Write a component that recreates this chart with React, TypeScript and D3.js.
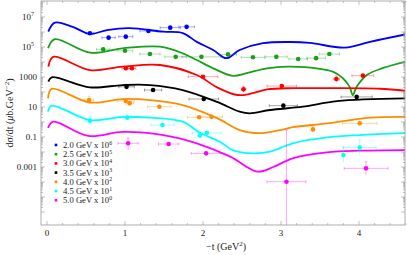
import React from "react";
import * as d3 from "d3";

type Pt = [number, number];
type Obs = [number, number, number, number?, number?]; // t, value, dt, lo, hi

const energies = ["2.0", "2.5", "3.0", "3.5", "4.0", "4.5", "5.0"];
const powers = ["6", "5", "4", "3", "2", "1", "0"];
const colors = ["#0000ff", "#19a019", "#ff0000", "#000000", "#ff8c00", "#00ffff", "#ff00ff"];

// model curves (already scaled by 10^n)
const curve20: Pt[] = [[0.017, 1.05e6], [0.1, 4.2e6], [0.33, 2.2e6], [0.55, 7.4e5], [0.77, 1.35e6], [1.06, 1.8e6], [1.49, 1.05e6], [1.74, 8.5e5], [1.92, 2.2e5], [2.13, 6.3e4], [2.3, 1.8e4], [2.47, 6.3e4], [2.77, 1.8e5], [3.12, 2.15e5], [3.37, 1.9e5], [3.82, 9e4], [4.14, 2.2e5], [4.6, 7e5]];
const curve25: Pt[] = [[0.013, 8.2e4], [0.1, 3.3e5], [0.55, 4.2e4], [0.97, 8.2e4], [1.45, 1.05e5], [1.74, 3.8e4], [1.92, 1.35e4], [2.13, 3.8e3], [2.38, 1.2e3], [2.56, 1.8e3], [2.82, 3.8e3], [3.12, 4.9e3], [3.67, 2.2e3], [3.79, 860], [3.88, 220], [3.92, 63], [3.97, 220], [4.1, 1350], [4.31, 4e3], [4.6, 1.05e4]];
const curve30: Pt[] = [[0.017, 4.9e3], [0.08, 2.2e4], [0.55, 2.9e3], [0.97, 4.9e3], [1.45, 6.3e3], [1.92, 1350], [2.18, 205], [2.44, 63], [2.6, 74], [2.82, 150], [3.15, 180], [3.63, 180], [4.27, 165], [4.6, 120]];
const curve35: Pt[] = [[0.017, 490], [0.06, 950], [0.55, 205], [0.97, 290], [1.32, 290], [1.74, 135], [2.18, 22], [2.47, 4.9], [2.6, 3.8], [2.86, 6.3], [3.28, 10.5], [3.72, 25], [4.6, 38]];
const curve40: Pt[] = [[0.013, 38], [0.06, 160], [0.55, 20], [0.97, 34], [1.32, 29], [1.74, 13.5], [2.18, 1.8], [2.47, 0.29], [2.73, 0.18], [2.99, 0.29], [3.15, 0.45], [3.59, 0.81], [4.14, 1.95], [4.6, 2.2]];
const curve45: Pt[] = [[0.013, 4.9], [0.06, 12.3], [0.55, 1.35], [0.97, 2.2], [1.32, 1.95], [1.74, 1.05], [1.96, 0.19], [2.22, 0.047], [2.38, 0.0135], [2.64, 0.0081], [2.86, 0.0105], [3.15, 0.038], [3.59, 0.095], [4.01, 0.135], [4.6, 0.18]];
const curve50: Pt[] = [[0.013, 0.4], [0.08, 1.05], [0.53, 0.117], [0.97, 0.22], [1.49, 0.135], [1.92, 0.038], [2.35, 0.0049], [2.7, 4.9e-4], [2.9, 1e-3], [3.15, 3.8e-3], [3.59, 9.5e-3], [4.01, 0.0123], [4.6, 0.0135]];

// measured points
const data20: Obs[] = [[0.55, 8.2e5, 0.05], [0.79, 4.2e5, 0.085], [1.01, 4.9e5, 0.09], [1.3, 1.17e6, 0.11], [1.58, 1.95e6, 0.13], [1.79, 2.2e6, 0.1]];
const data25: Obs[] = [[0.72, 7e4, 0.085], [1.0, 5.6e4, 0.1], [1.32, 3.4e4, 0.13], [1.65, 2.2e4, 0.14], [1.98, 2.2e4, 0.25], [2.32, 3.2e4, 0.11], [2.64, 2.05e4, 0.15], [2.94, 2.2e4, 0.14], [3.22, 1.6e4, 0.12], [3.45, 1.8e4, 0.12], [3.62, 3.4e4, 0.13]];
const data30: Obs[] = [[1.01, 3.8e3, 0.05], [1.09, 3.8e3, 0.05], [2.0, 1050, 0.19], [2.52, 150, 0.03, 95, 240], [3.01, 250, 0.19], [3.71, 740, 0.04, 470, 1170], [4.05, 1230, 0.14]];
const data35: Obs[] = [[1.02, 220, 0.1], [1.36, 135, 0.11], [2.01, 34, 0.19], [3.03, 12.3, 0.18], [3.97, 47, 0.2]];
const data40: Obs[] = [[0.54, 29, 0.06, 16, 52], [1.01, 25, 0.11], [1.06, 18, 0.05], [1.44, 10.5, 0.15], [1.95, 2.05, 0.15], [2.11, 2.2, 0.14], [3.41, 0.32, 0.0, 0.2, 0.5], [4.01, 0.81, 0.22]];
const data45: Obs[] = [[0.55, 1.23, 0.06, 0.62, 2.4], [1.03, 1.95, 0.1], [1.48, 0.63, 0.15], [1.96, 0.126, 0.0], [2.05, 0.19, 0.19], [3.8, 6.3e-3, 0.0, 2e-3, 0.02], [4.01, 0.02, 0.21, 6.3e-3, 0.063]];
const data50: Obs[] = [[1.04, 0.038, 0.13, 0.0135, 0.085], [1.56, 0.034, 0.13], [2.04, 8.1e-3, 0.19], [3.07, 1.05e-4, 0.25, 1e-10, 0.29], [4.09, 8.1e-4, 0.28, 3e-4, 2.2e-3]];

const curves = [curve20, curve25, curve30, curve35, curve40, curve45, curve50];
const points = [data20, data25, data30, data35, data40, data45, data50];

const yLabels: [number, string, string][] = [[1e7, "10", "7"], [1e5, "10", "5"], [1e3, "1000", ""], [10, "10", ""], [0.1, "0.1", ""], [1e-3, "0.001", ""]];

const W = 407, H = 255;
const left = 41, right = 405, top = 1, bottom = 225;
const font = "'Liberation Serif', 'DejaVu Serif', serif";

export default function App() {
  const x = d3.scaleLinear().domain([0, 4]).range([47, 359]);
  const y = d3.scaleLog().domain([1e-3, 1e7]).range([167, 17]);
  const line = d3.line<Pt>().x(d => x(d[0])).y(d => y(d[1])).curve(d3.curveCatmullRom.alpha(0.5));

  const xMinor = d3.range(0, 4.61, 0.2);
  const yMajor = d3.range(-6, 9).map(e => Math.pow(10, e));
  const yMinor: number[] = [];
  yMajor.forEach(m => { for (let k = 2; k < 10; k++) yMinor.push(m * k); });
  const inY = (v: number) => y(v) > top && y(v) < bottom;

  return (
    <svg width={W} height={H} style={{ position: "fixed", left: 0, top: 0, background: "#fff" }} fontFamily={font}>
      <defs>
        <clipPath id="plot"><rect x={left} y={top} width={right - left} height={bottom - top} /></clipPath>
      </defs>
      <g clipPath="url(#plot)">
        {curves.map((c, i) => (
          <path key={i} d={line(c) || ""} fill="none" stroke={colors[i]} strokeWidth={1.8} />
        ))}
        {points.map((ps, i) => ps.map((p, j) => {
          const [t, v, dt, lo, hi] = p;
          const cx = x(t), cy = y(v);
          return (
            <g key={i + "-" + j} stroke={colors[i]} strokeOpacity={0.35} strokeWidth={1}>
              {dt > 0 && <line x1={x(t - dt)} x2={x(t + dt)} y1={cy} y2={cy} />}
              {dt > 0 && <line x1={x(t - dt)} x2={x(t - dt)} y1={cy - 1.5} y2={cy + 1.5} />}
              {dt > 0 && <line x1={x(t + dt)} x2={x(t + dt)} y1={cy - 1.5} y2={cy + 1.5} />}
              {lo !== undefined && hi !== undefined && (
                <>
                  <line x1={cx} x2={cx} y1={y(lo)} y2={y(hi)} />
                  <line x1={cx - 1.5} x2={cx + 1.5} y1={y(hi)} y2={y(hi)} />
                </>
              )}
              <circle cx={cx} cy={cy} r={2.3} fill={colors[i]} stroke="none" />
            </g>
          );
        }))}
      </g>

      {/* frame */}
      <rect x={left} y={top} width={right - left} height={bottom - top} fill="none" stroke="#999" strokeWidth={0.8} />

      {/* ticks */}
      <g stroke="#999" strokeWidth={0.6}>
        {xMinor.map((t, i) => {
          const major = Math.abs(t - Math.round(t)) < 1e-6;
          const l = major ? 4 : 2;
          return (
            <g key={i}>
              <line x1={x(t)} x2={x(t)} y1={bottom} y2={bottom - l} />
              <line x1={x(t)} x2={x(t)} y1={top} y2={top + l} />
            </g>
          );
        })}
        {yMajor.filter(inY).map((v, i) => (
          <g key={"ym" + i}>
            <line x1={left} x2={left + 4} y1={y(v)} y2={y(v)} />
            <line x1={right} x2={right - 4} y1={y(v)} y2={y(v)} />
          </g>
        ))}
        {yMinor.filter(inY).map((v, i) => (
          <g key={"yn" + i}>
            <line x1={left} x2={left + 2} y1={y(v)} y2={y(v)} />
            <line x1={right} x2={right - 2} y1={y(v)} y2={y(v)} />
          </g>
        ))}
      </g>

      {/* tick labels */}
      <g fontSize={9} fill="#222">
        {[0, 1, 2, 3, 4].map(t => (
          <text key={t} x={x(t)} y={236} textAnchor="middle">{t}</text>
        ))}
        {yLabels.map(([v, base, sup]) => (
          <text key={v} x={sup ? 34 : 37} y={y(v) + 3} textAnchor="end">
            {base}
            {sup && <tspan fontSize={6} dy={-4}>{sup}</tspan>}
          </text>
        ))}
      </g>

      {/* axis titles */}
      <text x={226} y={250} textAnchor="middle" fontSize={10} fill="#222">
        −t (GeV<tspan fontSize={7} dy={-4}>2</tspan><tspan dy={4}>)</tspan>
      </text>
      <text transform="translate(13,113) rotate(-90)" textAnchor="middle" fontSize={10} fill="#222">
        dσ/dt (<tspan fontStyle="italic">μ</tspan>b.GeV<tspan fontSize={7} dy={-4}>−2</tspan><tspan dy={4}>)</tspan>
      </text>

      {/* legend */}
      <g fontSize={8.6} fill="#222">
        {energies.map((e, i) => (
          <g key={e} transform={`translate(56,${145 + i * 9.2})`}>
            <rect x={-1.3} y={-1.3} width={2.6} height={2.6} fill={colors[i]} />
            <text x={7} y={3}>
              {e} GeV x 10<tspan fontSize={5.8} dy={-3.5}>{powers[i]}</tspan>
            </text>
          </g>
        ))}
      </g>
    </svg>
  );
}
